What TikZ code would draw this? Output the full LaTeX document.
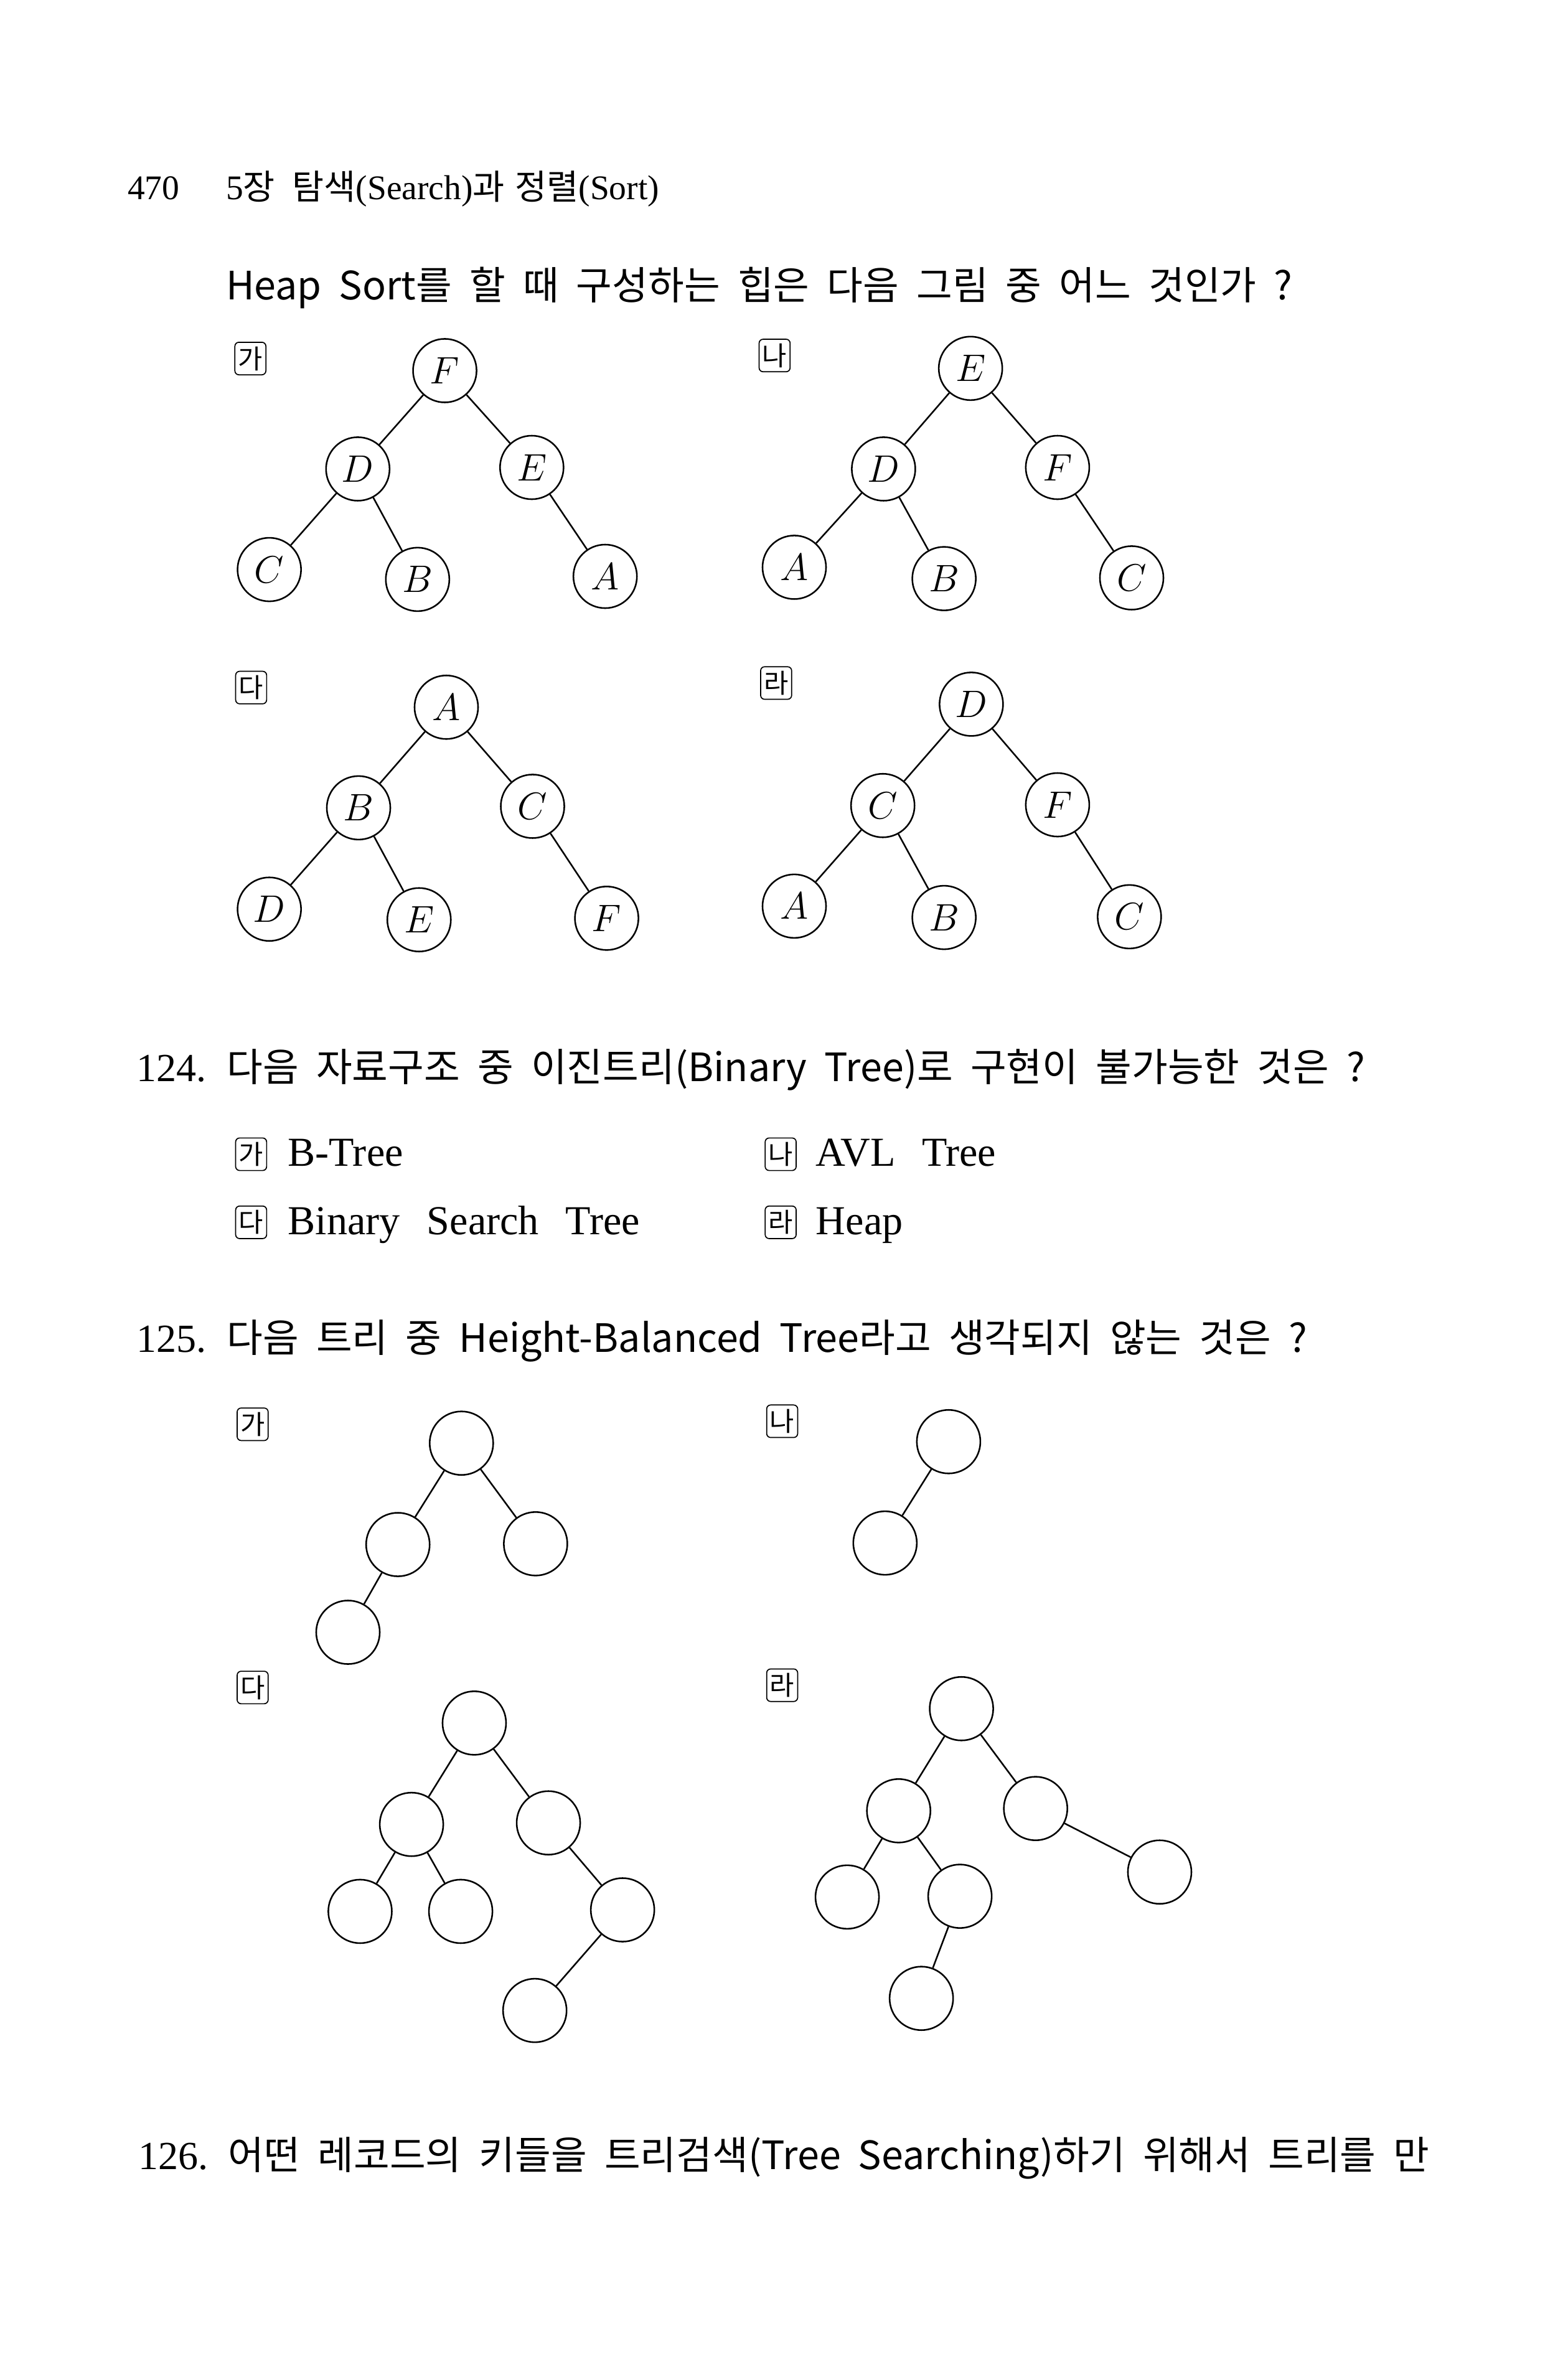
\documentclass[tikz,border=0pt]{standalone}
\usepackage{fontspec}
\setmainfont{Liberation Serif}
\newfontfamily\kr[WordSpace=2]{Noto Sans CJK KR}
\newfontfamily\opt[WordSpace=2.6]{Liberation Serif}
\usetikzlibrary{positioning}
\tikzset{
  vtx/.style = {draw, circle, line width=0.6pt, minimum size=0.84cm, inner sep=0pt, font=\fontsize{14.5}{14.5}\selectfont},
  tag/.style = {draw, rounded corners=1.5pt, line width=0.4pt, minimum width=0.41cm, minimum height=0.43cm, inner sep=0pt, font=\kr\fontsize{10}{10}\selectfont},
  line/.style = {line width=0.6pt},
  question/.style = {anchor=base west, inner sep=0pt, font=\kr\fontsize{14.7}{16}\selectfont},
  choice/.style = {anchor=base west, inner sep=0pt, font=\opt\fontsize{15.5}{17}\selectfont},
  head/.style = {anchor=base west, inner sep=0pt, font=\fontsize{13}{14}\selectfont}
}

\begin{document}
\begin{tikzpicture}[x=0.02cm, y=-0.02cm]
    \useasboundingbox (0,0) rectangle (1036,1568);

    % page head
    \node[head] (pgno) at (84,132) {470};
    \node[head] (chap) at (149,132) {5{\kr 장}\hspace{0.5em}{\kr 탐색}(Search){\kr 과}\hspace{0.3em}{\kr 정렬}(Sort)};

    % heap question
    \node[question] (q1) at (149,198) {Heap Sort를 할 때 구성하는 힙은 다음 그림 중 어느 것인가 ?};

    \node[tag] (h1) at (165.5,237) {가};
    \node[vtx] (h1f) at (294,245) {$F$};
    \node[vtx] (h1d) at (236.5,310) {$D$};
    \node[vtx] (h1e) at (351.5,309) {$E$};
    \node[vtx] (h1c) at (178,376.5) {$C$};
    \node[vtx] (h1b) at (276,383) {$B$};
    \node[vtx] (h1a) at (400,381) {$A$};
    \draw[line] (h1f) -- (h1d);
    \draw[line] (h1f) -- (h1e);
    \draw[line] (h1d) -- (h1c);
    \draw[line] (h1d) -- (h1b);
    \draw[line] (h1e) -- (h1a);

    \node[tag] (h2) at (512,235) {나};
    \node[vtx] (h2e) at (641.5,243.5) {$E$};
    \node[vtx] (h2d) at (584,310) {$D$};
    \node[vtx] (h2f) at (699,309) {$F$};
    \node[vtx] (h2a) at (525,375) {$A$};
    \node[vtx] (h2b) at (624,382.5) {$B$};
    \node[vtx] (h2c) at (748,382) {$C$};
    \draw[line] (h2e) -- (h2d);
    \draw[line] (h2e) -- (h2f);
    \draw[line] (h2d) -- (h2a);
    \draw[line] (h2d) -- (h2b);
    \draw[line] (h2f) -- (h2c);

    \node[tag] (h3) at (166,454.5) {다};
    \node[vtx] (h3a) at (295,467.5) {$A$};
    \node[vtx] (h3b) at (237,534) {$B$};
    \node[vtx] (h3c) at (352,533) {$C$};
    \node[vtx] (h3d) at (178,601) {$D$};
    \node[vtx] (h3e) at (277,608) {$E$};
    \node[vtx] (h3f) at (401,607) {$F$};
    \draw[line] (h3a) -- (h3b);
    \draw[line] (h3a) -- (h3c);
    \draw[line] (h3b) -- (h3d);
    \draw[line] (h3b) -- (h3e);
    \draw[line] (h3c) -- (h3f);

    \node[tag] (h4) at (513,451.5) {라};
    \node[vtx] (h4d) at (642,465.5) {$D$};
    \node[vtx] (h4c) at (583.5,532.5) {$C$};
    \node[vtx] (h4f) at (699,532) {$F$};
    \node[vtx] (h4a) at (525,599) {$A$};
    \node[vtx] (h4b) at (624,606.5) {$B$};
    \node[vtx] (h4cc) at (746.5,606) {$C$};
    \draw[line] (h4d) -- (h4c);
    \draw[line] (h4d) -- (h4f);
    \draw[line] (h4c) -- (h4a);
    \draw[line] (h4c) -- (h4b);
    \draw[line] (h4f) -- (h4cc);

    % question 124
    \node[question] (q124) at (90,715) {{\rmfamily\fontsize{15}{17}\selectfont 124.} 다음 자료구조 중 이진트리(Binary Tree)로 구현이 불가능한 것은 ?};
    \node[tag] (c1) at (166,763) {가};
    \node[choice] (c1t) at (190,771) {B-Tree};
    \node[tag] (c2) at (516,763) {나};
    \node[choice] (c2t) at (539,771) {AVL Tree};
    \node[tag] (c3) at (166,808) {다};
    \node[choice] (c3t) at (190,816) {Binary Search Tree};
    \node[tag] (c4) at (516,808) {라};
    \node[choice] (c4t) at (539,816) {Heap};

    % question 125
    \node[question] (q125) at (90,894) {{\rmfamily\fontsize{15}{17}\selectfont 125.} 다음 트리 중 Height-Balanced Tree라고 생각되지 않는 것은 ?};

    \node[tag] (t1) at (167,941.5) {가};
    \node[vtx] (t1r) at (305,954) {};
    \node[vtx] (t1l) at (263,1021) {};
    \node[vtx] (t1rr) at (354,1020.5) {};
    \node[vtx] (t1ll) at (230,1079) {};
    \draw[line] (t1r) -- (t1l);
    \draw[line] (t1r) -- (t1rr);
    \draw[line] (t1l) -- (t1ll);

    \node[tag] (t2) at (517,939.5) {나};
    \node[vtx] (t2r) at (627,953) {};
    \node[vtx] (t2l) at (585,1020) {};
    \draw[line] (t2r) -- (t2l);

    \node[tag] (t3) at (167,1115.5) {다};
    \node[vtx] (t3r) at (313.5,1139) {};
    \node[vtx] (t3l) at (272,1206) {};
    \node[vtx] (t3rr) at (362.5,1205) {};
    \node[vtx] (t3ll) at (238,1263.5) {};
    \node[vtx] (t3lr) at (304.5,1263.5) {};
    \node[vtx] (t3rrr) at (411.5,1262.5) {};
    \node[vtx] (t3rrl) at (353.5,1329) {};
    \draw[line] (t3r) -- (t3l);
    \draw[line] (t3r) -- (t3rr);
    \draw[line] (t3l) -- (t3ll);
    \draw[line] (t3l) -- (t3lr);
    \draw[line] (t3rr) -- (t3rrr);
    \draw[line] (t3rrr) -- (t3rrl);

    \node[tag] (t4) at (517,1114) {라};
    \node[vtx] (t4r) at (635.5,1129.5) {};
    \node[vtx] (t4l) at (594,1197) {};
    \node[vtx] (t4rr) at (684.5,1195.5) {};
    \node[vtx] (t4ll) at (560,1254) {};
    \node[vtx] (t4lr) at (634.5,1253.5) {};
    \node[vtx] (t4rrr) at (766.5,1237.5) {};
    \node[vtx] (t4lrl) at (609,1321) {};
    \draw[line] (t4r) -- (t4l);
    \draw[line] (t4r) -- (t4rr);
    \draw[line] (t4l) -- (t4ll);
    \draw[line] (t4l) -- (t4lr);
    \draw[line] (t4rr) -- (t4rrr);
    \draw[line] (t4lr) -- (t4lrl);

    % question 126
    \node[question] (q126) at (91,1434) {{\rmfamily\fontsize{15}{17}\selectfont 126.} 어떤 레코드의 키들을 트리검색(Tree Searching)하기 위해서 트리를 만};

\end{tikzpicture}
\end{document}
